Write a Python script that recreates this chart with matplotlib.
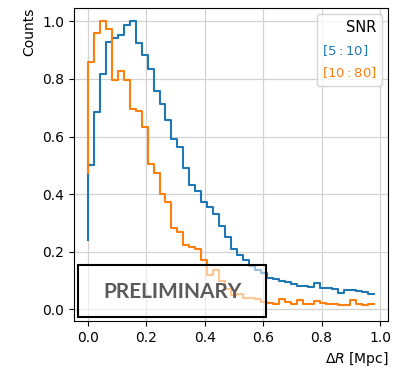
import numpy as np
import matplotlib
matplotlib.use("Agg")
import matplotlib.pyplot as plt
from matplotlib.patches import Rectangle

# normalised counts per Delta R bin (49 bins over 0..1 Mpc, left edges)
bin_edges = np.linspace(0, 1, 50)[:-1]

snr_5_10 = [0.24, 0.50, 0.685, 0.818, 0.93, 0.942, 0.953, 0.986, 1.0, 0.924,
            0.882, 0.835, 0.76, 0.713, 0.656, 0.592, 0.563, 0.49, 0.432, 0.412,
            0.374, 0.355, 0.331, 0.29, 0.25, 0.21, 0.19, 0.17, 0.15, 0.135,
            0.126, 0.108, 0.105, 0.098, 0.094, 0.087, 0.082, 0.08, 0.078, 0.09,
            0.075, 0.075, 0.072, 0.058, 0.066, 0.066, 0.064, 0.06, 0.055]

snr_10_80 = [0.473, 0.86, 0.96, 1.0, 0.975, 0.795, 0.826, 0.795, 0.696, 0.688,
             0.635, 0.506, 0.475, 0.40, 0.374, 0.282, 0.27, 0.224, 0.215, 0.21,
             0.172, 0.118, 0.137, 0.10, 0.072, 0.05, 0.052, 0.04, 0.04, 0.035,
             0.027, 0.022, 0.02, 0.035, 0.025, 0.018, 0.033, 0.02, 0.018, 0.03,
             0.022, 0.02, 0.018, 0.015, 0.016, 0.032, 0.02, 0.014, 0.02]

labels = [r"$[5:10]$", r"$[10:80]$"]

fig = plt.figure(figsize=(3.94, 3.74), dpi=100)
ax = fig.add_axes([0.187, 0.142, 0.799, 0.837])

ax.step(bin_edges, snr_5_10, where="pre", color="tab:blue", lw=1.5, label=labels[0])
ax.step(bin_edges, snr_10_80, where="pre", color="tab:orange", lw=1.5, label=labels[1])

ax.set_xlim(-0.049, 1.029)
ax.set_ylim(-0.04, 1.047)
ax.set_xticks([0, 0.2, 0.4, 0.6, 0.8, 1.0])
ax.set_yticks([0, 0.2, 0.4, 0.6, 0.8, 1.0])
ax.grid(True, color="#d3d3d3", lw=0.9)
ax.set_axisbelow(True)

ax.set_xlabel(r"$\Delta R$ [Mpc]", loc="right")
ax.set_ylabel("Counts", loc="top")

leg = ax.legend(title="SNR", loc="upper right", fontsize=9.5, title_fontsize=10.5,
                handlelength=0, handletextpad=0, labelspacing=0.6,
                labelcolor="linecolor", alignment="right")
for h in leg.legend_handles:
    h.set_visible(False)

# preliminary stamp
box = Rectangle((-0.033, -0.027), 0.643, 0.18, facecolor="white", alpha=0.55,
                edgecolor="none", zorder=5)
ax.add_patch(box)
frame = Rectangle((-0.033, -0.027), 0.643, 0.18, facecolor="none",
                  edgecolor="black", lw=1.5, zorder=6)
ax.add_patch(frame)
ax.text(0.288, 0.06, "PRELIMINARY", ha="center", va="center", fontsize=15,
        fontweight="bold", family=["Lato", "DejaVu Sans"], color="#5a5a5a", zorder=7)

fig.savefig("out.png", dpi=100)
